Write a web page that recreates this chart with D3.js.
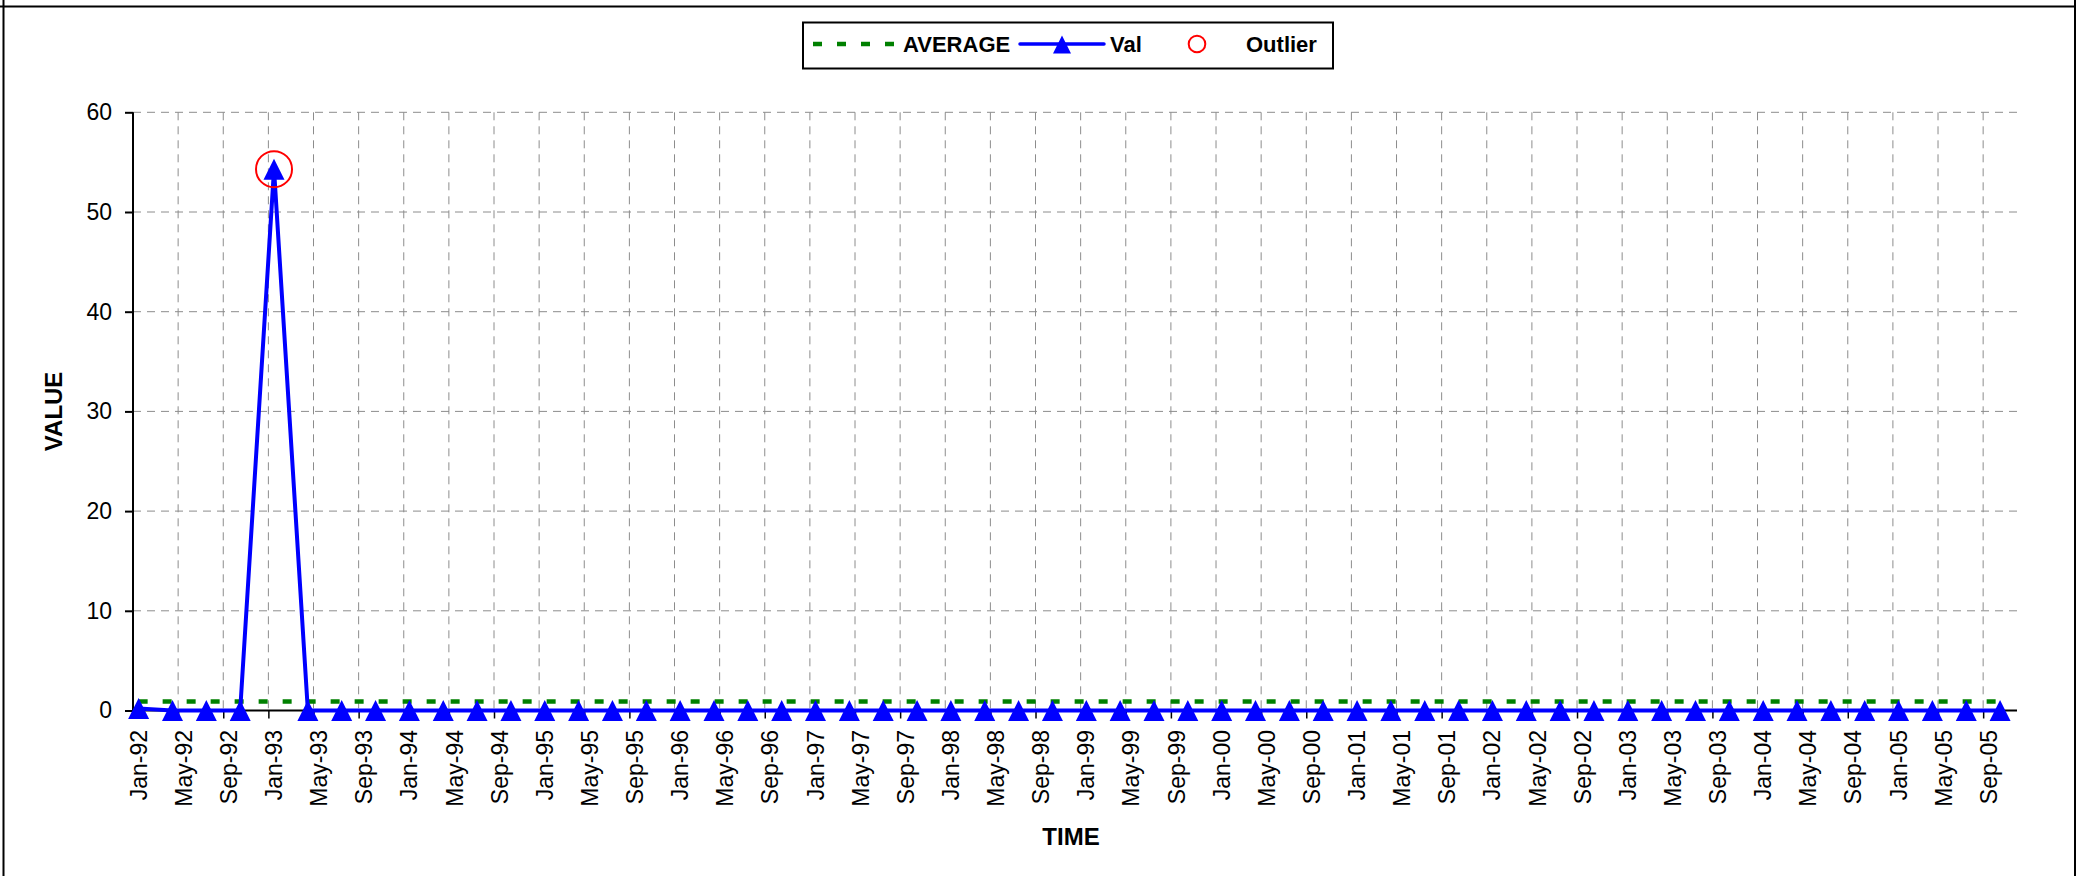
<!DOCTYPE html>
<html>
<head>
<meta charset="utf-8">
<script src="https://cdn.jsdelivr.net/npm/d3@7"></script>
<style>
    body { margin: 0; background: #fff; }
    svg { display: block; font-family: "Liberation Sans", Arial, sans-serif; }
    .grid line { stroke: #8c8c8c; stroke-width: 1; stroke-dasharray: 8, 6; }
    .axis-title { font-weight: bold; font-size: 24px; }
    .legend text { font-weight: bold; font-size: 22px; }
</style>
</head>
<body>
<div id="chart"></div>
<script>

// quarterly observations
const quarterDates = [
    "1992-01", "1992-04", "1992-07", "1992-10",
    "1993-01", "1993-04", "1993-07", "1993-10",
    "1994-01", "1994-04", "1994-07", "1994-10",
    "1995-01", "1995-04", "1995-07", "1995-10",
    "1996-01", "1996-04", "1996-07", "1996-10",
    "1997-01", "1997-04", "1997-07", "1997-10",
    "1998-01", "1998-04", "1998-07", "1998-10",
    "1999-01", "1999-04", "1999-07", "1999-10",
    "2000-01", "2000-04", "2000-07", "2000-10",
    "2001-01", "2001-04", "2001-07", "2001-10",
    "2002-01", "2002-04", "2002-07", "2002-10",
    "2003-01", "2003-04", "2003-07", "2003-10",
    "2004-01", "2004-04", "2004-07", "2004-10",
    "2005-01", "2005-04", "2005-07", "2005-10"
];

const values = [
    0.2, 0, 0, 0,
    54.3, 0, 0, 0,
    0, 0, 0, 0,
    0, 0, 0, 0,
    0, 0, 0, 0,
    0, 0, 0, 0,
    0, 0, 0, 0,
    0, 0, 0, 0,
    0, 0, 0, 0,
    0, 0, 0, 0,
    0, 0, 0, 0,
    0, 0, 0, 0,
    0, 0, 0, 0,
    0, 0, 0, 0
];

const averageValue = 0.9;

const outlierDates = ["1993-01"];
const outlierValues = [54.3];

const yTicks = [0, 10, 20, 30, 40, 50, 60];

// one label every 4 months, Jan-92 .. Sep-05
const xTickDates = [
    "1992-01", "1992-05", "1992-09", "1993-01", "1993-05", "1993-09",
    "1994-01", "1994-05", "1994-09", "1995-01", "1995-05", "1995-09",
    "1996-01", "1996-05", "1996-09", "1997-01", "1997-05", "1997-09",
    "1998-01", "1998-05", "1998-09", "1999-01", "1999-05", "1999-09",
    "2000-01", "2000-05", "2000-09", "2001-01", "2001-05", "2001-09",
    "2002-01", "2002-05", "2002-09", "2003-01", "2003-05", "2003-09",
    "2004-01", "2004-05", "2004-09", "2005-01", "2005-05", "2005-09"
];
const xTickLabels = [
    "Jan-92", "May-92", "Sep-92", "Jan-93", "May-93", "Sep-93",
    "Jan-94", "May-94", "Sep-94", "Jan-95", "May-95", "Sep-95",
    "Jan-96", "May-96", "Sep-96", "Jan-97", "May-97", "Sep-97",
    "Jan-98", "May-98", "Sep-98", "Jan-99", "May-99", "Sep-99",
    "Jan-00", "May-00", "Sep-00", "Jan-01", "May-01", "Sep-01",
    "Jan-02", "May-02", "Sep-02", "Jan-03", "May-03", "Sep-03",
    "Jan-04", "May-04", "Sep-04", "Jan-05", "May-05", "Sep-05"
];


class LineVis {

    constructor(parentElement) {
        this.parentElement = parentElement;
        this.initVis();
    }

    initVis() {
        let vis = this;

        vis.totalWidth = 2080;
        vis.totalHeight = 876;
        vis.margin = {top: 112.3, right: 63, bottom: 165.5, left: 133};
        vis.width = vis.totalWidth - vis.margin.left - vis.margin.right;
        vis.height = vis.totalHeight - vis.margin.top - vis.margin.bottom;

        vis.root = d3.select("#" + vis.parentElement).append("svg")
            .attr("width", vis.totalWidth)
            .attr("height", vis.totalHeight);

        // frame lines around the sheet cell
        vis.root.append("line").attr("x1", 0).attr("x2", 2075).attr("y1", 6.5).attr("y2", 6.5)
            .attr("stroke", "#000").attr("stroke-width", 2);
        vis.root.append("line").attr("x1", 3.5).attr("x2", 3.5).attr("y1", 0).attr("y2", vis.totalHeight)
            .attr("stroke", "#000").attr("stroke-width", 2);
        vis.root.append("line").attr("x1", 2075).attr("x2", 2075).attr("y1", 0).attr("y2", vis.totalHeight)
            .attr("stroke", "#000").attr("stroke-width", 2);

        vis.svg = vis.root.append("g")
            .attr("transform", `translate(${vis.margin.left}, ${vis.margin.top})`);

        // months are equal units on this axis
        vis.monthIndex = function(s) {
            let parts = s.split("-");
            return (+parts[0] - 1992) * 12 + (+parts[1] - 1);
        };

        // axis runs from half a month before Jan-92 to half a month before Dec-05
        vis.x = d3.scaleLinear()
            .domain([-0.5, vis.monthIndex("2005-12") - 0.5])
            .range([0, vis.width]);

        vis.y = d3.scaleLinear()
            .domain([0, 60])
            .range([vis.height, 0]);

        vis.wrangleData();
    }

    wrangleData() {
        let vis = this;

        vis.displayData = quarterDates.map((d, i) => ({m: vis.monthIndex(d), value: values[i]}));
        vis.outliers = outlierDates.map((d, i) => ({m: vis.monthIndex(d), value: outlierValues[i]}));
        vis.tickMonths = xTickDates.map(d => vis.monthIndex(d));

        vis.updateVis();
    }

    updateVis() {
        let vis = this;

        // -- grid
        vis.svg.append("g")
            .attr("class", "grid")
            .selectAll("line")
            .data(yTicks.filter(d => d > 0))
            .enter().append("line")
            .attr("x1", 0).attr("x2", vis.width)
            .attr("y1", d => vis.y(d)).attr("y2", d => vis.y(d));

        vis.svg.append("g")
            .attr("class", "grid")
            .selectAll("line")
            .data(vis.tickMonths.slice(1))
            .enter().append("line")
            .attr("x1", d => vis.x(d - 0.5)).attr("x2", d => vis.x(d - 0.5))
            .attr("y1", 0).attr("y2", vis.height);

        // -- axes
        vis.yAxis = d3.axisLeft(vis.y)
            .tickValues(yTicks)
            .tickSize(8)
            .tickPadding(13);

        let yG = vis.svg.append("g")
            .attr("class", "y axis")
            .call(vis.yAxis);
        yG.select(".domain").attr("stroke-width", 2).attr("d", `M0,0V${vis.height}`);
        yG.selectAll(".tick line").attr("stroke-width", 2);
        yG.selectAll("text")
            .attr("font-size", 23)
            .attr("font-family", "Liberation Sans, Arial, sans-serif");

        // tick marks sit on month boundaries
        let xMarks = d3.axisBottom(vis.x)
            .tickValues(vis.tickMonths.map(d => d - 0.5))
            .tickSize(8)
            .tickFormat("");
        let xG = vis.svg.append("g")
            .attr("class", "x axis")
            .attr("transform", `translate(0, ${vis.height})`)
            .call(xMarks);
        xG.select(".domain").attr("stroke-width", 2).attr("d", `M0,0H${vis.width}`);
        xG.selectAll(".tick line").attr("stroke-width", 1.5);

        // labels centred on their month
        vis.svg.append("g")
            .attr("class", "x labels")
            .selectAll("text")
            .data(vis.tickMonths)
            .enter().append("text")
            .attr("transform", d => `translate(${vis.x(d)}, ${vis.height + 19.5}) rotate(-90)`)
            .attr("dy", "0.35em")
            .attr("text-anchor", "end")
            .attr("font-size", 23)
            .text((d, i) => xTickLabels[i]);

        // -- axis titles
        vis.root.append("text")
            .attr("class", "axis-title")
            .attr("transform", `translate(62, ${vis.margin.top + vis.height / 2}) rotate(-90)`)
            .attr("text-anchor", "middle")
            .text("VALUE");

        vis.root.append("text")
            .attr("class", "axis-title")
            .attr("x", 1071)
            .attr("y", 845)
            .attr("text-anchor", "middle")
            .text("TIME");

        // -- average line
        let first = vis.displayData[0], last = vis.displayData[vis.displayData.length - 1];
        vis.svg.append("line")
            .attr("x1", vis.x(first.m)).attr("x2", vis.x(last.m))
            .attr("y1", vis.y(averageValue)).attr("y2", vis.y(averageValue))
            .attr("stroke", "#008000")
            .attr("stroke-width", 4.5)
            .attr("stroke-dasharray", "9, 15");

        // -- value line + markers
        let line = d3.line()
            .x(d => vis.x(d.m))
            .y(d => vis.y(d.value));

        vis.svg.append("path")
            .datum(vis.displayData)
            .attr("fill", "none")
            .attr("stroke", "#0000ff")
            .attr("stroke-width", 4)
            .attr("stroke-linejoin", "round")
            .attr("d", line);

        let tri = "M0,-10.5L10.5,10.5L-10.5,10.5Z";
        vis.svg.append("g")
            .selectAll("path")
            .data(vis.displayData)
            .enter().append("path")
            .attr("d", tri)
            .attr("fill", "#0000ff")
            .attr("transform", d => `translate(${vis.x(d.m)}, ${vis.y(d.value)})`);

        // -- outlier ring
        vis.svg.append("g")
            .selectAll("circle")
            .data(vis.outliers)
            .enter().append("circle")
            .attr("cx", d => vis.x(d.m))
            .attr("cy", d => vis.y(d.value))
            .attr("r", 18)
            .attr("fill", "none")
            .attr("stroke", "#ff0000")
            .attr("stroke-width", 2);

        vis.drawLegend();
    }

    drawLegend() {
        let vis = this;

        let lg = vis.root.append("g").attr("class", "legend");

        lg.append("rect")
            .attr("x", 803).attr("y", 22.5)
            .attr("width", 530).attr("height", 46)
            .attr("fill", "#fff")
            .attr("stroke", "#000")
            .attr("stroke-width", 2);

        lg.append("line")
            .attr("x1", 813).attr("x2", 894).attr("y1", 44).attr("y2", 44)
            .attr("stroke", "#008000").attr("stroke-width", 4.5)
            .attr("stroke-dasharray", "9, 15");
        lg.append("text").attr("x", 903).attr("y", 51.5).text("AVERAGE");

        lg.append("line")
            .attr("x1", 1020).attr("x2", 1104).attr("y1", 44).attr("y2", 44)
            .attr("stroke", "#0000ff").attr("stroke-width", 3.5).attr("stroke-linecap", "round");
        lg.append("path")
            .attr("d", "M0,-9L9,9L-9,9Z")
            .attr("fill", "#0000ff")
            .attr("transform", "translate(1062, 44.5)");
        lg.append("text").attr("x", 1110).attr("y", 51.5).text("Val");

        lg.append("circle")
            .attr("cx", 1197).attr("cy", 44).attr("r", 8.3)
            .attr("fill", "none").attr("stroke", "#ff0000").attr("stroke-width", 2);
        lg.append("text").attr("x", 1246).attr("y", 51.5).text("Outlier");
    }
}

new LineVis("chart");
</script>
</body>
</html>
